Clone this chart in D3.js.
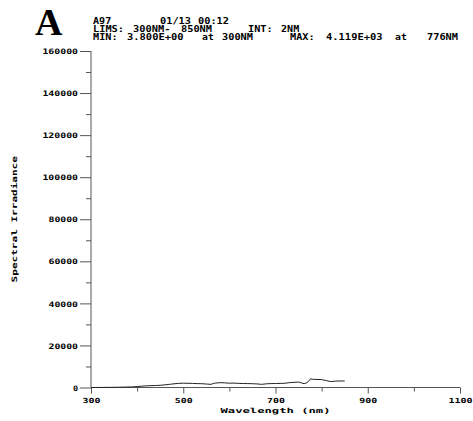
<!DOCTYPE html>
<html>
<head>
<meta charset="utf-8">
<script src="https://cdn.jsdelivr.net/npm/d3@7"></script>
<style>
  html, body { margin: 0; padding: 0; background: #fff; }
  svg { display: block; }
  .mono { font-family: "DejaVu Sans Mono", "Liberation Mono", monospace; font-weight: bold; fill: #000; }
</style>
</head>
<body>
<svg id="chart" width="473" height="421"></svg>
<script>
// Spectral scan: wavelength (nm) and irradiance readings
const wavelengths = [300, 320, 340, 360, 380, 390, 400, 410, 420, 430, 440, 450, 460, 470, 480, 490,
  500, 510, 520, 530, 540, 550, 560, 566, 570, 580, 590, 600, 610, 620, 630, 640, 650, 660, 670,
  680, 690, 700, 710, 720, 730, 740, 750, 756, 762, 768, 772, 776, 780, 790, 800, 810, 820, 830, 840, 850];
const irradiance = [3.8, 20, 60, 120, 220, 300, 450, 620, 800, 880, 950, 1050, 1250, 1500, 1750, 1950,
  2050, 2000, 1950, 1850, 1800, 1650, 1500, 1950, 2100, 2300, 2200, 2050, 2100, 1950, 1900, 1850, 1800, 1700, 1500,
  1750, 1850, 1900, 1950, 2000, 2300, 2450, 2600, 2200, 1800, 2300, 3000, 4119, 3900, 3850, 3750, 3300, 2800, 3050, 3100, 3100];

const xTicks = [300, 500, 700, 900, 1100];
const xMinorTicks = [400, 600, 800, 1000];
const yTicks = [0, 20000, 40000, 60000, 80000, 100000, 120000, 140000, 160000];
const yMinorTicks = [10000, 30000, 50000, 70000, 90000, 110000, 130000, 150000];

// Header text tokens: [text, x, line]
const headerTokens = [
  ["A97", 93, 0], ["01/13", 160, 0], ["00:12", 198, 0],
  ["LIMS:", 93, 1], ["300NM-", 133, 1], ["850NM", 181, 1], ["INT:", 248, 1], ["2NM", 281, 1],
  ["MIN:", 93, 2], ["3.800E+00", 127, 2], ["at", 202, 2], ["300NM", 222, 2],
  ["MAX:", 290, 2], ["4.119E+03", 326, 2], ["at", 395, 2], ["776NM", 427, 2]
];

const svg = d3.select("#chart");
const charW = 6.4;

const x = d3.scaleLinear().domain([300, 1100]).range([91, 460]);
const y = d3.scaleLinear().domain([0, 160000]).range([387.5, 51]);

const axisColor = "#555";

// fixed-pitch label helper: stretches glyphs to a set width per character
function monoText(sel, str, cw) {
  return sel.text(str)
    .attr("textLength", str.length * cw - 1)
    .attr("lengthAdjust", "spacingAndGlyphs");
}

// Panel letter
svg.append("text")
  .attr("x", 35).attr("y", 35)
  .style("font-family", "'Liberation Serif', 'Times New Roman', serif")
  .style("font-weight", "bold")
  .style("font-size", "38px")
  .text("A");

// Header lines
const lineY = [24, 32, 40];
headerTokens.forEach(([t, tx, li]) => {
  svg.append("text").attr("class", "mono")
    .attr("x", tx).attr("y", lineY[li])
    .style("font-size", "8px")
    .call(s => monoText(s, t, charW));
});

// Y axis
const yAxis = d3.axisLeft(y).tickValues(yTicks).tickSize(11).tickPadding(2).tickFormat(d3.format("d"));
const gy = svg.append("g").attr("transform", `translate(${x(300)},0)`).call(yAxis);
gy.select(".domain").remove();
gy.selectAll(".tick line").attr("stroke", axisColor);
gy.selectAll(".tick text").attr("class", "mono").style("font-size", "7.5px")
  .attr("dy", "0.35em")
  .each(function(d) { monoText(d3.select(this), String(d), 6.1); });
const gyMinor = svg.append("g").attr("transform", `translate(${x(300)},0)`)
  .call(d3.axisLeft(y).tickValues(yMinorTicks).tickSize(5).tickFormat(""));
gyMinor.select(".domain").remove();
gyMinor.selectAll(".tick line").attr("stroke", axisColor);

// X axis
const xAxis = d3.axisBottom(x).tickValues(xTicks).tickSize(6).tickPadding(0).tickFormat(d3.format("d"));
const gx = svg.append("g").attr("transform", `translate(0,${y(0)})`).call(xAxis);
gx.select(".domain").remove();
gx.selectAll(".tick line").attr("stroke", axisColor);
gx.selectAll(".tick text").attr("class", "mono").style("font-size", "7px")
  .attr("y", 15).attr("dy", null)
  .each(function(d) { monoText(d3.select(this), String(d), 6.3); });
const gxMinor = svg.append("g").attr("transform", `translate(0,${y(0)})`)
  .call(d3.axisBottom(x).tickValues(xMinorTicks).tickSize(4).tickFormat(""));
gxMinor.select(".domain").remove();
gxMinor.selectAll(".tick line").attr("stroke", axisColor);

// Axis lines
svg.append("line").attr("x1", x(300)).attr("x2", x(1100)).attr("y1", y(0)).attr("y2", y(0))
  .attr("stroke", axisColor);
svg.append("line").attr("x1", x(300)).attr("x2", x(300)).attr("y1", y(0)).attr("y2", y(160000))
  .attr("stroke", axisColor);

// Axis titles
svg.append("text").attr("class", "mono")
  .attr("x", x(700)).attr("y", 413).attr("text-anchor", "middle")
  .style("font-size", "7px")
  .call(s => monoText(s, "Wavelength (nm)", 7.4));
svg.append("text").attr("class", "mono")
  .attr("transform", `translate(17,${(y(0) + y(160000)) / 2}) rotate(-90)`)
  .attr("text-anchor", "middle")
  .style("font-size", "7.5px")
  .call(s => monoText(s, "Spectral Irradiance", 6.7));

// Spectrum trace
const data = wavelengths.map((w, i) => ({ w, v: irradiance[i] }));
svg.append("path")
  .datum(data)
  .attr("fill", "none")
  .attr("stroke", "#222")
  .attr("stroke-width", 1)
  .attr("d", d3.line().x(d => x(d.w)).y(d => y(d.v)));
</script>
</body>
</html>
